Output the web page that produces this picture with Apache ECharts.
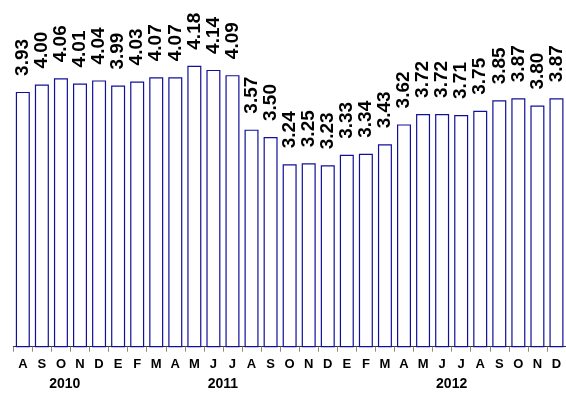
<!DOCTYPE html>
<html>
<head>
<meta charset="utf-8">
<script src="https://cdn.jsdelivr.net/npm/echarts@6/dist/echarts.min.js"></script>
<style>
  html, body { margin: 0; padding: 0; background: #fff; }
  #chart { width: 566px; height: 393px; }
</style>
</head>
<body>
<div id="chart"></div>
<script>
// Monthly values, Aug 2010 – Dec 2012 (Spanish month initials)
const months = ['A','S','O','N','D','E','F','M','A','M','J','J',
                'A','S','O','N','D','E','F','M','A','M','J','J',
                'A','S','O','N','D'];
const values = [3.93, 4.00, 4.06, 4.01, 4.04, 3.99, 4.03, 4.07, 4.07, 4.18, 4.14, 4.09,
                3.57, 3.50, 3.24, 3.25, 3.23, 3.33, 3.34, 3.43, 3.62, 3.72, 3.72, 3.71,
                3.75, 3.85, 3.87, 3.80, 3.87];
// Year captions and where they sit along the month scale (in month units)
const years = ['2010', '2011', '2012'];
const yearPos = [2.7, 11, 23];

const chart = echarts.init(document.getElementById('chart'), null, { renderer: 'canvas' });

chart.setOption({
  animation: false,
  backgroundColor: '#ffffff',
  grid: { left: 13.3, width: 554, top: 32.15, bottom: 46.3, containLabel: false },
  xAxis: [
    {
      type: 'category',
      data: months,
      boundaryGap: true,
      axisLine: { show: true, lineStyle: { color: '#333333', width: 1 } },
      axisTick: { show: true, length: 5, lineStyle: { color: '#888888' } },
      axisLabel: {
        interval: 0, margin: 11,
        color: '#000', fontFamily: 'Liberation Sans, Arial, sans-serif',
        fontWeight: 'bold', fontSize: 13
      }
    },
    {
      type: 'value',
      min: 0, max: months.length,
      position: 'bottom',
      axisLine: { show: false },
      axisTick: { show: false },
      splitLine: { show: false },
      axisLabel: {
        customValues: yearPos,
        formatter: v => years[yearPos.indexOf(v)] || '',
        margin: 30,
        color: '#000', fontFamily: 'Liberation Sans, Arial, sans-serif',
        fontWeight: 'bold', fontSize: 14
      }
    }
  ],
  yAxis: { type: 'value', min: 1.5, max: 4.5, show: false, splitLine: { show: false } },
  series: [{
    type: 'bar',
    xAxisIndex: 0,
    data: values,
    barWidth: 14,
    itemStyle: { color: '#ffffff', borderColor: '#10109a', borderWidth: 1.2 },
    label: {
      show: true,
      position: 'top',
      rotate: 90,
      align: 'left',
      verticalAlign: 'middle',
      distance: 16,
      formatter: p => p.value.toFixed(2),
      color: '#000',
      fontFamily: 'Liberation Sans, Arial, sans-serif',
      fontWeight: 'bold',
      fontSize: 19
    }
  }]
});
</script>
</body>
</html>
